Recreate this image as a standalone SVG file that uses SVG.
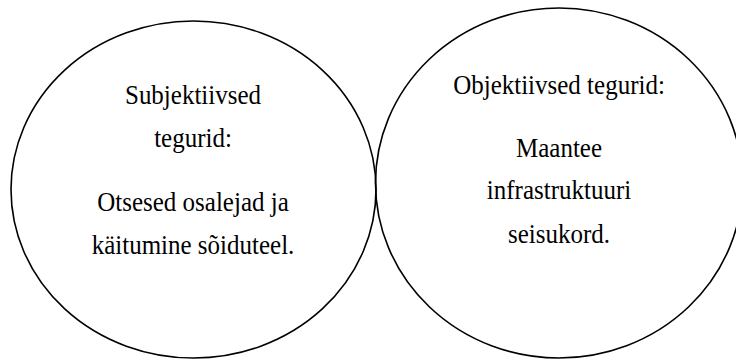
<svg xmlns="http://www.w3.org/2000/svg" width="736" height="360" viewBox="0 0 736 360">
<style>
.c{fill:none;stroke:#000;stroke-width:1.6}
.t{font-family:"Liberation Serif","Times New Roman",serif;font-size:25px;fill:#000;text-anchor:middle}
</style>
<rect width="736" height="360" fill="#fff"/>
<g id="subjective">
<ellipse class="c" cx="193.5" cy="189.5" rx="182.5" ry="168.5"/>
<text class="t" transform="translate(193,104) scale(1,1.12)">Subjektiivsed</text>
<text class="t" transform="translate(193,147) scale(1,1.12)">tegurid:</text>
<text class="t" transform="translate(193,211) scale(1,1.12)">Otsesed osalejad ja</text>
<text class="t" transform="translate(193,254) scale(1,1.12)">käitumine sõiduteel.</text>
</g>
<g id="objective">
<ellipse class="c" cx="559" cy="183" rx="183.5" ry="175"/>
<text class="t" transform="translate(559,94) scale(1,1.12)">Objektiivsed tegurid:</text>
<text class="t" transform="translate(559,156.5) scale(1,1.12)">Maantee</text>
<text class="t" transform="translate(559,199) scale(1,1.12)">infrastruktuuri</text>
<text class="t" transform="translate(559,243) scale(1,1.12)">seisukord.</text>
</g>
<g id="connectors"/>
</svg>
